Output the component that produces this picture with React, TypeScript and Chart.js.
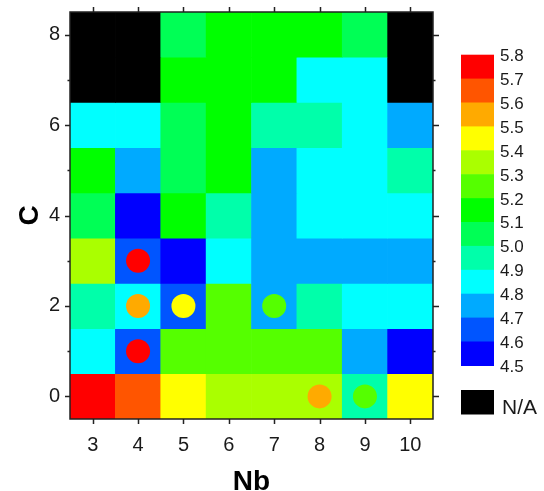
import React, { useEffect, useRef } from "react";
import { Chart, registerables } from "chart.js";

Chart.register(...registerables);

// Nb on the x axis, C on the y axis
const NB = [3, 4, 5, 6, 7, 8, 9, 10];
const C_LEVELS = [0, 1, 2, 3, 4, 5, 6, 7, 8];

// cell values per C row (null = N/A), columns follow NB
const rowC0 = [5.75, 5.65, 5.45, 5.35, 5.35, 5.35, 4.95, 5.45];
const rowC1 = [4.85, 4.65, 5.25, 5.25, 5.25, 5.25, 4.75, 4.55];
const rowC2 = [4.95, 4.85, 4.65, 5.25, 4.75, 4.95, 4.85, 4.85];
const rowC3 = [5.35, 4.65, 4.55, 4.85, 4.75, 4.75, 4.75, 4.75];
const rowC4 = [5.05, 4.55, 5.15, 4.95, 4.75, 4.85, 4.85, 4.85];
const rowC5 = [5.15, 4.75, 5.05, 5.15, 4.75, 4.85, 4.85, 4.95];
const rowC6 = [4.85, 4.85, 5.05, 5.15, 4.95, 4.95, 4.85, 4.75];
const rowC7 = [null, null, 5.15, 5.15, 5.15, 4.85, 4.85, null];
const rowC8 = [null, null, 5.05, 5.15, 5.15, 5.15, 5.05, null];
const ROWS: (number | null)[][] = [rowC0, rowC1, rowC2, rowC3, rowC4, rowC5, rowC6, rowC7, rowC8];

// circle markers
const markerNb = [4, 4, 5, 7, 4, 8, 9];
const markerC = [3, 2, 2, 2, 1, 0, 0];
const markerValue = [5.75, 5.55, 5.45, 5.25, 5.75, 5.55, 5.25];

// colour scale
const SCALE_MIN = 4.5;
const SCALE_STEP = 0.1;
const binColors = [
  "#0000FF", "#0055FF", "#00AAFF", "#00FFFF", "#00FFAA", "#00FF55", "#00FF00",
  "#55FF00", "#AAFF00", "#FFFF00", "#FFAA00", "#FF5500", "#FF0000",
];
const legendLabels = ["5.8", "5.7", "5.6", "5.5", "5.4", "5.3", "5.2", "5.1", "5.0", "4.9", "4.8", "4.7", "4.6", "4.5"];
const NA_COLOR = "#000000";
const NA_LABEL = "N/A";

function colorFor(v: number | null): string {
  if (v === null) return NA_COLOR;
  let i = Math.floor((v - SCALE_MIN) / SCALE_STEP + 1e-9);
  i = Math.max(0, Math.min(binColors.length - 1, i));
  return binColors[i];
}

const decorPlugin = {
  id: "decor",
  afterDatasetsDraw(chart: any) {
    const { ctx, chartArea: a, scales } = chart;
    const xs = scales.x;
    const ys = scales.y;
    ctx.save();
    ctx.strokeStyle = "#222";
    ctx.lineWidth = 1.5;
    // frame
    ctx.strokeRect(a.left, a.top, a.right - a.left, a.bottom - a.top);
    // x ticks bottom and top
    ctx.beginPath();
    NB.forEach((n) => {
      const px = Math.round(xs.getPixelForValue(n)) + 0.5;
      ctx.moveTo(px, a.bottom);
      ctx.lineTo(px, a.bottom + 5);
      ctx.moveTo(px, a.top);
      ctx.lineTo(px, a.top - 5);
    });
    // y ticks left and right
    C_LEVELS.forEach((c) => {
      const py = Math.round(ys.getPixelForValue(c)) + 0.5;
      const major = c % 2 === 0;
      ctx.moveTo(a.left, py);
      ctx.lineTo(a.left - (major ? 5 : 2.5), py);
      ctx.moveTo(a.right, py);
      ctx.lineTo(a.right + (major ? 6 : 2.5), py);
    });
    ctx.stroke();

    // axis titles
    ctx.fillStyle = "#000";
    ctx.font = "bold 28px 'Liberation Sans', Arial, sans-serif";
    ctx.textAlign = "center";
    ctx.textBaseline = "alphabetic";
    ctx.fillText("Nb", (a.left + a.right) / 2, 490);
    ctx.save();
    ctx.translate(38, (a.top + a.bottom) / 2);
    ctx.rotate(-Math.PI / 2);
    ctx.fillText("C", 0, 0);
    ctx.restore();

    // colour bar legend
    const barX = 461;
    const barW = 33;
    const barTop = 55;
    const barBottom = 365.7;
    const n = binColors.length;
    const h = (barBottom - barTop) / n;
    for (let i = 0; i < n; i++) {
      ctx.fillStyle = binColors[n - 1 - i];
      ctx.fillRect(barX, barTop + i * h - 0.3, barW, h + 0.6);
    }
    ctx.fillStyle = "#1a1a1a";
    ctx.font = "17px 'Liberation Sans', Arial, sans-serif";
    ctx.textAlign = "left";
    ctx.textBaseline = "middle";
    legendLabels.forEach((t, i) => {
      ctx.fillText(t, 500, barTop + i * h + 1.5);
    });
    // N/A box
    ctx.fillStyle = NA_COLOR;
    ctx.fillRect(barX, 390, barW, 24.5);
    ctx.fillStyle = "#1a1a1a";
    ctx.font = "21px 'Liberation Sans', Arial, sans-serif";
    ctx.fillText(NA_LABEL, 502, 408);
    ctx.restore();
  },
};

export default function App() {
  const ref = useRef<HTMLCanvasElement | null>(null);
  useEffect(() => {
    if (!ref.current) return;
    const cells: any[] = [];
    const cellColors: string[] = [];
    ROWS.forEach((row, ci) => {
      row.forEach((v, ni) => {
        const c = C_LEVELS[ci];
        cells.push({ x: NB[ni], y: [c - 0.5, c + 0.5] });
        cellColors.push(colorFor(v));
      });
    });
    const markers = markerNb.map((n, i) => ({ x: n, y: markerC[i] }));
    const markerColors = markerValue.map((v) => colorFor(v));

    const chart = new Chart(ref.current, {
      type: "bar",
      data: {
        datasets: [
          {
            type: "scatter",
            data: markers,
            pointRadius: 12,
            pointHoverRadius: 12,
            pointBorderWidth: 0,
            pointBackgroundColor: markerColors,
            backgroundColor: markerColors,
            borderWidth: 0,
            order: 1,
          } as any,
          {
            type: "bar",
            data: cells,
            backgroundColor: cellColors,
            borderWidth: 0,
            barPercentage: 1,
            categoryPercentage: 1,
            grouped: false,
            order: 2,
          } as any,
        ],
      },
      options: {
        responsive: false,
        animation: false,
        layout: { padding: { top: 11, right: 111, left: 0, bottom: 0 } },
        plugins: { legend: { display: false }, tooltip: { enabled: false } },
        scales: {
          x: {
            type: "linear",
            min: 2.5,
            max: 10.5,
            offset: false,
            grid: { display: false, drawTicks: false },
            border: { display: false },
            afterBuildTicks: (s: any) => {
              s.ticks = NB.map((v) => ({ value: v }));
            },
            afterFit: (s: any) => {
              s.height = 72;
              s.paddingLeft = 0;
              s.paddingRight = 0;
            },
            ticks: {
              autoSkip: false,
              maxRotation: 0,
              padding: 14,
              color: "#1a1a1a",
              font: { family: "'Liberation Sans', Arial, sans-serif", size: 20 },
              callback: (v: any) => String(v),
            },
          },
          y: {
            type: "linear",
            min: -0.5,
            max: 8.5,
            grid: { display: false, drawTicks: false },
            border: { display: false },
            afterBuildTicks: (s: any) => {
              s.ticks = C_LEVELS.map((v) => ({ value: v }));
            },
            afterFit: (s: any) => {
              s.width = 70;
              s.paddingTop = 0;
              s.paddingBottom = 0;
            },
            ticks: {
              autoSkip: false,
              padding: 10,
              color: "#1a1a1a",
              font: { family: "'Liberation Sans', Arial, sans-serif", size: 20 },
              callback: (v: any) => (Number(v) % 2 === 0 ? String(v) : ""),
            },
          },
        },
      } as any,
      plugins: [decorPlugin],
    });
    return () => chart.destroy();
  }, []);

  return (
    <div style={{ position: "absolute", left: 0, top: 0, width: 544, height: 491, background: "#fff" }}>
      <canvas ref={ref} width={544} height={491} style={{ display: "block" }} />
    </div>
  );
}
